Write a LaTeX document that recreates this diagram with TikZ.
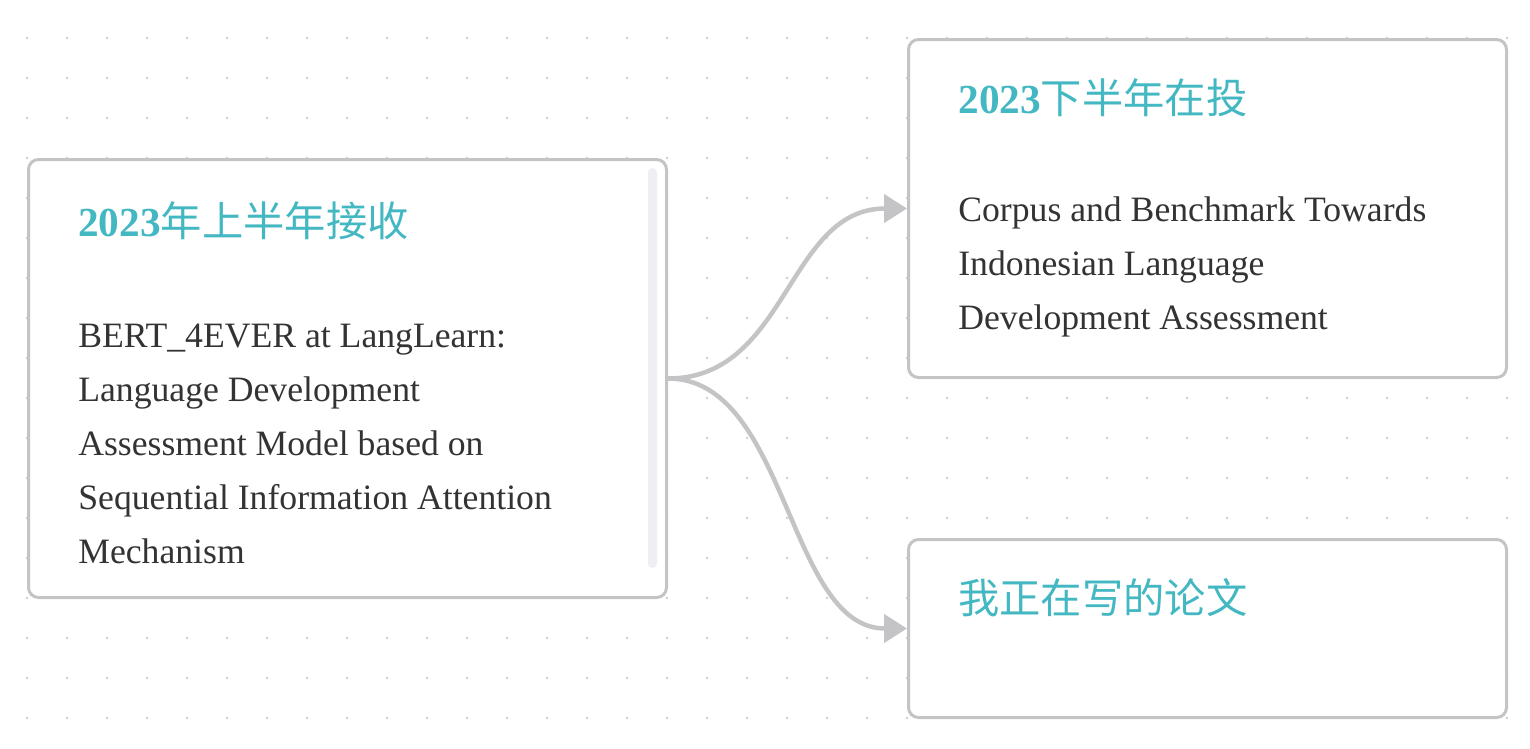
\documentclass[tikz,border=0pt]{standalone}
\usepackage{fontspec}
\setmainfont{Liberation Serif}
\newfontfamily\cjk{Noto Sans CJK SC}
\usetikzlibrary{arrows.meta}

\newdimen\pxu \pxu=0.02cm

\definecolor{boxgray}{HTML}{C4C4C7}
\definecolor{dotgray}{HTML}{CDCDD2}
\definecolor{bargray}{HTML}{EEEFF3}
\definecolor{titleteal}{HTML}{43B8C3}
\definecolor{bodytext}{HTML}{333333}

\tikzset{
  card/.style={draw=boxgray, line width=3\pxu, fill=white, rounded corners=10\pxu,
    anchor=north west, inner sep=0pt},
  cardtitle/.style={anchor=base west, inner sep=0pt, text=titleteal,
    font=\fontsize{23.5pt}{28pt}\selectfont},
  cardtext/.style={anchor=base west, inner sep=0pt, text=bodytext, align=left,
    font=\fontsize{20.3pt}{30.6pt}\selectfont},
  link/.style={draw=boxgray, line width=4.5\pxu,
    -{Triangle[length=4.6mm, width=5.6mm, fill=boxgray]}}
}

\begin{document}
\begin{tikzpicture}[x=\pxu, y=-\pxu]
  \useasboundingbox (0,0) rectangle (1530,748);
  % dotted background
  \foreach \i in {0,...,37}
    \foreach \j in {0,...,17}
      \fill[dotgray] (27+40*\i, 38+40*\j) circle (1.3);

  % cards
  \node[card, minimum width=638\pxu, minimum height=438\pxu] (done) at (27,158) {};
  \node[card, minimum width=598\pxu, minimum height=338\pxu] (review) at (907,38) {};
  \node[card, minimum width=598\pxu, minimum height=178\pxu] (writing) at (907,538) {};
  \fill[bargray, rounded corners=4.5\pxu] (648,168) rectangle (657,568);

  % texts (base = last line)
  \node[cardtitle] (donetitle) at (78,236) {\textbf{2023}{\cjk 年上半年接收}};
  \node[cardtext] (donetext) at (78,563) {BERT\_4EVER at LangLearn:\\Language Development\\Assessment Model based on\\Sequential Information Attention\\Mechanism};
  \node[cardtitle] (reviewtitle) at (958,113) {\textbf{2023}{\cjk 下半年在投}};
  \node[cardtext] (reviewtext) at (958,329) {Corpus and Benchmark Towards\\Indonesian Language\\Development Assessment};
  \node[cardtitle] (writingtitle) at (958,613) {{\cjk 我正在写的论文}};

  % links
  \draw[link] (done.east) .. controls +(120,0) and +(-120,0) .. (review.west);
  \draw[link] (done.east) .. controls +(120,0) and +(-120,0) .. (writing.west);
\end{tikzpicture}
\end{document}
